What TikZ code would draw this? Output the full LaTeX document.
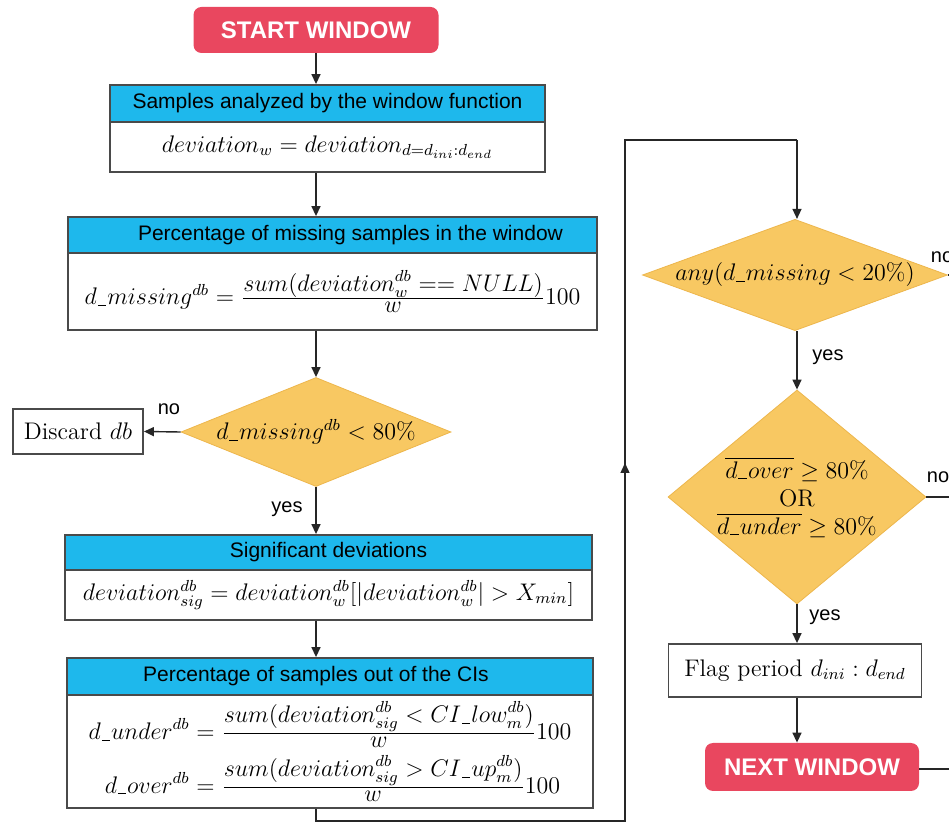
\documentclass[tikz,border=0pt]{standalone}
\usepackage{amsmath}
\usepackage{fontspec}
\newfontfamily\hdfont{Liberation Sans}
\usetikzlibrary{arrows.meta}
\usetikzlibrary{shapes.geometric}
\definecolor{startred}{HTML}{E9475F}
\definecolor{headcyan}{HTML}{1EB8EC}
\definecolor{decyellow}{HTML}{F8C862}
\definecolor{decedge}{HTML}{EDB64C}
\definecolor{boxgray}{HTML}{4A4A4A}
% short underscore as in d_missing
\newcommand{\usc}{\mbox{\kern.04em\rule[-.12ex]{.36em}{.45pt}\kern.04em}}
% compact fraction with full size parts
\newcommand{\cfr}[2]{{\textstyle\frac{\displaystyle #1}{\displaystyle #2}}}

\begin{document}
\begin{tikzpicture}[x=0.5pt,y=-0.5pt]
  \tikzset{
    term/.style={rectangle, rounded corners=4pt, fill=startred, text=white, font=\hdfont\bfseries\fontsize{12}{14}\selectfont, inner sep=0pt},
    head/.style={rectangle, draw=boxgray, line width=0.9pt, fill=headcyan, font=\hdfont\fontsize{10.5}{12}\selectfont, inner sep=0pt},
    body/.style={rectangle, draw=boxgray, line width=0.9pt, fill=white, font=\fontsize{12}{14}\selectfont, inner sep=0pt},
    decision/.style={diamond, draw=decedge, fill=decyellow, inner sep=0pt, font=\fontsize{12}{14}\selectfont, align=center},
    plainbox/.style={rectangle, draw=boxgray, line width=0.9pt, font=\fontsize{12}{14}\selectfont, inner sep=0pt},
    lbl/.style={font=\hdfont\fontsize{10}{12}\selectfont, inner sep=0pt},
    wire/.style={line width=0.7pt, draw=black!85},
    arr/.style={wire, -{Triangle[length=5pt,width=4.5pt]}}
  }
  \useasboundingbox (0,0) rectangle (949,823);

  % --- left column ---
  \node[term, minimum width=122.5pt, minimum height=23pt] (start) at (316,30) {START WINDOW};

  \node[head, minimum width=217.5pt, minimum height=18.5pt] (h1) at (327.5,103.5) {Samples analyzed by the window function};
  \node[body, minimum width=217.5pt, minimum height=25pt] (b1) at (327.5,147) {$deviation_w = deviation_{d=d_{ini}:d_{end}}$};

  \node[head, minimum width=264.5pt, minimum height=18pt] (h2) at (332.5,235) {\hspace*{18pt}Percentage of missing samples in the window};
  \node[body, minimum width=264.5pt, minimum height=38.5pt] (b2) at (332.5,291.5) {$d\usc missing^{db} = \cfr{sum(deviation_w^{db} == NULL)}{w}100$};

  \node[decision, minimum width=135pt, minimum height=54.5pt, aspect=2.48] (d1) at (316,432) {$d\usc missing^{db} < 80\%$};
  \node[plainbox, minimum width=65pt, minimum height=22.5pt] (discard) at (78,431.5) {Discard $db$};

  \node[head, minimum width=263.5pt, minimum height=17.5pt] (h3) at (328.5,552.5) {Significant deviations};
  \node[body, minimum width=263.5pt, minimum height=25pt] (b3) at (328.5,595) {$deviation_{sig}^{db} = deviation_w^{db}[|deviation_w^{db}| > X_{min}]$};

  \node[head, minimum width=263pt, minimum height=18.5pt] (h4) at (330,676.5) {Percentage of samples out of the CIs\hspace*{14pt}};
  \node[body, minimum width=263pt, minimum height=56.5pt, font=\fontsize{11.5}{13}\selectfont] (b4) at (330,751.5) {$\begin{aligned}
      d\usc under^{db} &= \cfr{sum(deviation_{sig}^{db} < CI\usc low_m^{db})}{w}100\\
      d\usc over^{db} &= \cfr{sum(deviation_{sig}^{db} > CI\usc up_m^{db})}{w}100
    \end{aligned}$};

  \draw[arr] (start.south) -- (start.south |- h1.north);
  \draw[arr] (b1.south -| start.south) -- (h2.north -| start.south);
  \draw[arr] (b2.south -| d1.north) -- (d1.north);
  \draw[arr] (d1.west) -- (discard.east);
  \node[lbl] (no1) at (169,409) {no};
  \draw[arr] (d1.south) -- (h3.north -| d1.south);
  \node[lbl] (yes1) at (287,509) {yes};
  \draw[arr] (b3.south -| d1.south) -- (h4.north -| d1.south);

  % --- loop to the right column ---
  \coordinate (lp1) at (316,821);
  \coordinate (lp2) at (625,821);
  \coordinate (lp3) at (625,140);
  \coordinate (lp4) at (797,140);
  \coordinate (lpmid) at (625,463);

  % --- right column ---
  \node[decision, minimum width=145pt, minimum height=53pt, aspect=2.74] (d2) at (795,275) {$any(d\usc missing < 20\%)$};
  \node[decision, minimum width=129pt, minimum height=107pt, aspect=1.2] (d3) at (797,497) {$\overline{d\usc over} \geq 80\%$\\ OR\\ $\overline{d\usc under} \geq 80\%$};
  \node[plainbox, minimum width=126.5pt, minimum height=26.5pt] (flag) at (795,670.5) {Flag period $d_{ini} : d_{end}$};
  \node[term, minimum width=107pt, minimum height=24pt] (next) at (812,767) {NEXT WINDOW};

  \draw[wire] (b4.south -| lp1) -- (lp1) -- (lp2) -- (lp3) -- (lp4);
  \draw[arr] (lp2) -- (lpmid);
  \draw[arr] (lp4) -- (lp4 |- d2.north);

  \coordinate (out2) at (949,275);
  \coordinate (out3) at (949,497);
  \coordinate (out4) at (949,769);
  \draw[wire] (d2.east) -- (out2);
  \node[lbl] (no2) at (942,257) {no};
  \draw[arr] (lp4 |- d2.south) -- (d3.north);
  \node[lbl] (yes2) at (828,357) {yes};
  \draw[wire] (d3.east) -- (out3);
  \node[lbl] (no3) at (938,477) {no};
  \draw[arr] (d3.south) -- (flag.north -| d3.south);
  \node[lbl] (yes3) at (825,617) {yes};
  \draw[arr] (flag.south -| d3.south) -- (next.north -| d3.south);
  \draw[wire] (next.east |- out4) -- (out4);
\end{tikzpicture}
\end{document}
